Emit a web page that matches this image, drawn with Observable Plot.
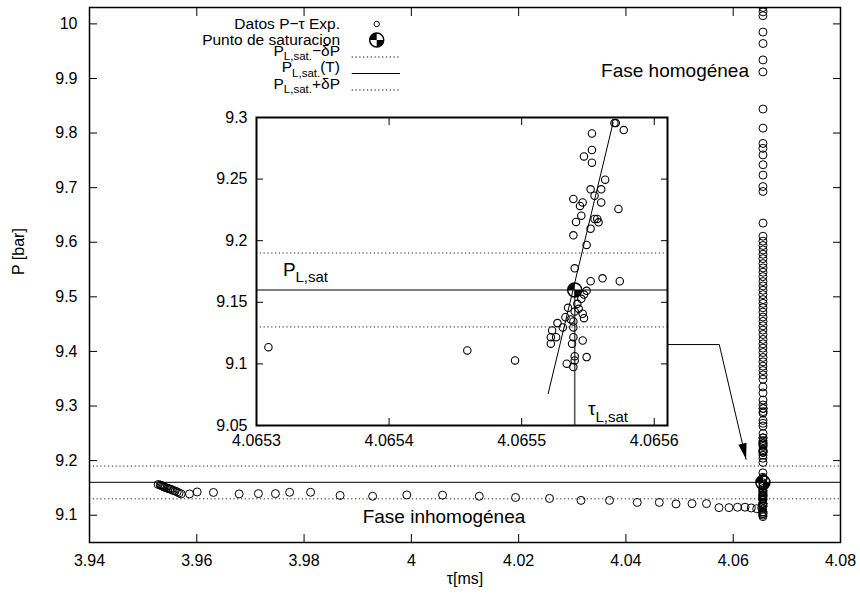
<!DOCTYPE html>
<html><head><meta charset="utf-8">
<script src="https://cdn.jsdelivr.net/npm/d3@7"></script>
<script src="https://cdn.jsdelivr.net/npm/@observablehq/plot@0.6"></script>
<style>
body{margin:0;background:#fff;}
#wrap{position:relative;width:860px;height:595px;}
#wrap svg{position:absolute;overflow:visible;}
</style></head><body><div id="wrap"></div>
<script>
const FONT = '"Liberation Sans", Arial, Helvetica, sans-serif';

// ---- tick labels ----
const xTicksMain = [3.94, 3.96, 3.98, 4, 4.02, 4.04, 4.06, 4.08];
const yTicksMain = [9.1, 9.2, 9.3, 9.4, 9.5, 9.6, 9.7, 9.8, 9.9, 10];
const xTicksInset = [4.0653, 4.0654, 4.0655, 4.0656];
const yTicksInset = [9.05, 9.1, 9.15, 9.2, 9.25, 9.3];

// ---- saturation values ----
const pSat = 9.16;
const deltaP = 0.03;
const tauSat = 4.06554;

// ---- inhomogeneous branch (tau, P) ----
const tauLower = [3.95280,3.95318,3.95336,3.95355,3.95373,3.95392,3.95411,3.95439,3.95467,3.95495,3.95523,3.95560,3.95597,3.95634,3.95671,3.95709,
  3.95864,3.96007,3.96311,3.96790,3.97149,3.97466,3.97731,3.98122,3.98672,3.99278,3.99915,4.00582,4.01266,4.01943,4.02576,4.03163,4.03694,4.04211,4.04622,4.04934,4.05232,4.05502,4.05735,4.05921,4.06080,4.06220,4.06337,4.06438];
const pLower = [9.1563,9.1554,9.1545,9.1536,9.1527,9.1517,9.1508,9.1499,9.1490,9.1481,9.1472,9.1453,9.1444,9.1426,9.1408,9.1390,
  9.1390,9.1426,9.1417,9.1390,9.1395,9.1395,9.1420,9.1420,9.1362,9.1347,9.1371,9.1367,9.1347,9.1325,9.1307,9.1271,9.1271,9.1234,9.1234,9.1207,9.1212,9.1212,9.1139,9.1139,9.1146,9.1146,9.1133,9.1119];

// ---- homogeneous column above the inset range (tau, P) ----
const tauUpper = [4.06555,4.06556,4.06554,4.06555,4.06556,4.06555,4.06554,4.06555,4.06556,4.06555,4.06554,4.06555,4.06556,4.06555,4.06554,4.06555,4.06556,4.06555,4.06554,4.06555,4.06556,4.06555,4.06554,4.06555,4.06556,4.06555,4.06554,4.06555,4.06556,4.06555,4.06554,4.06555,4.06556,4.06555,4.06554,4.06555,4.06556,4.06555,4.06554,4.06555,4.06556,4.06555,4.06554,4.06555,4.06556,4.06555,4.06554,4.06555,4.06556,4.06555,4.06554,4.06555,4.06556,4.06555];
const pUpper = [10.03,10.022,10.015,9.985,9.964,9.934,9.912,9.844,9.809,9.781,9.772,9.760,9.742,9.723,9.702,9.693,9.635,9.611,9.602,9.594,9.586,9.578,9.570,9.561,9.553,9.545,9.537,9.528,9.520,9.512,9.504,9.495,9.488,9.480,9.472,9.463,9.455,9.447,9.439,9.431,9.422,9.414,9.406,9.398,9.389,9.381,9.373,9.365,9.357,9.349,9.335,9.324,9.311,9.302];

// ---- points near saturation (shown in the inset) ----
const tauInset = [4.065570,4.065571,4.065577,4.065553,4.065553,4.065547,4.065553,4.065563,4.065560,4.065552,4.065555,4.065539,4.065546,4.065560,4.065544,4.065573,4.065545,4.065555,4.065557,4.065558,4.065541,4.065552,4.065539,4.065549,4.065540,4.065552,4.065561,4.065574,4.065549,4.065547,4.065545,4.065542,4.065535,4.065543,4.065540,4.065546,4.065533,4.065537,4.065547,4.065539,4.065527,4.065531,4.065539,4.065523,4.065522,4.065526,4.065539,4.065546,4.065522,4.065538,4.065459,4.065495,4.065549,4.065540,4.065540,4.065534,4.065539,4.065309];
const pInset = [9.2955,9.2955,9.2898,9.2870,9.2736,9.2684,9.2633,9.2495,9.2417,9.2417,9.2365,9.2339,9.2311,9.2311,9.2282,9.2258,9.2203,9.2177,9.2177,9.2149,9.2152,9.2098,9.2044,9.1966,9.1776,9.1671,9.1695,9.1671,9.1593,9.1563,9.1528,9.1488,9.1455,9.1447,9.1425,9.1407,9.1379,9.1361,9.1371,9.1344,9.1331,9.1296,9.1296,9.1271,9.1217,9.1217,9.1217,9.1190,9.1164,9.1164,9.1109,9.1028,9.1055,9.1063,9.1028,9.1002,9.0974,9.1136];

// ---- fitted line P(T) in the inset ----
const fitTau = [4.065520, 4.065569];
const fitP = [9.0759, 9.296];

// ---- arrow from the inset to the saturation region (main coords) ----
const arrowTau = [4.0476, 4.0574, 4.0624];
const arrowP = [9.4126, 9.4126, 9.2024];

// ---- text ----
const legendRows = [
  {main: "Datos P\u2212\u03c4 Exp."},
  {main: "Punto de saturacion"},
  {pre: "P", sub: "L,sat.", post: "\u2212\u03b4P"},
  {pre: "P", sub: "L,sat.", post: "(T)"},
  {pre: "P", sub: "L,sat.", post: "+\u03b4P"}
];

const zip = (a, b) => a.map((v, i) => ({x: v, y: b[i]}));
const lowerPts = zip(tauLower, pLower);
const upperPts = zip(tauUpper, pUpper);
const insetPts = zip(tauInset, pInset);
const allPts = lowerPts.concat(upperPts, insetPts);
const satPt = [{x: tauSat, y: pSat}];
const fitPts = zip(fitTau, fitP);
const arrowPts = zip(arrowTau, arrowP);

// symbols
const quadSymbol = {draw(ctx, size) {
  const r = Math.sqrt(size / Math.PI);
  ctx.moveTo(0, 0); ctx.arc(0, 0, r, Math.PI, 1.5 * Math.PI); ctx.closePath();
  ctx.moveTo(0, 0); ctx.arc(0, 0, r, 0, 0.5 * Math.PI); ctx.closePath();
}};
const arrowHead = {draw(ctx) {
  const ux = 0.2262, uy = 0.9741, L = 16, W = 4.2;
  const bx = -ux * L, by = -uy * L;
  ctx.moveTo(0, 0);
  ctx.lineTo(bx - uy * W, by + ux * W);
  ctx.lineTo(bx + uy * W, by - ux * W);
  ctx.closePath();
}};

const fmt2 = d => String(+d.toFixed(2));
const dotted = "1.2,2.6";

// ---------------- main plot ----------------
const main = Plot.plot({
  width: 860, height: 595,
  marginLeft: 89, marginRight: 20, marginTop: 7, marginBottom: 53,
  x: {domain: [3.94, 4.08]},
  y: {domain: [9.05, 10.03]},
  style: {fontFamily: FONT, fontSize: "16px", background: "white", color: "black"},
  marks: [
    Plot.ruleY([pSat + deltaP, pSat - deltaP], {stroke: "#222", strokeWidth: 1, strokeDasharray: dotted}),
    Plot.ruleY([pSat], {stroke: "#333", strokeWidth: 1.2}),
    Plot.dot(allPts, {x: "x", y: "y", r: 4, stroke: "black", strokeWidth: 1, fill: "none", clip: true}),
    Plot.dot(satPt, {x: "x", y: "y", r: 7, symbol: quadSymbol, fill: "black", stroke: "none"}),
    Plot.dot(satPt, {x: "x", y: "y", r: 7, stroke: "black", strokeWidth: 1.5, fill: "none"}),
    Plot.line(arrowPts, {x: "x", y: "y", stroke: "black", strokeWidth: 1}),
    Plot.dot(arrowPts.slice(-1), {x: "x", y: "y", r: 5, symbol: arrowHead, fill: "black", stroke: "none"}),
    Plot.text(["Fase homog\u00e9nea"], {x: 4.06294, y: 9.914, textAnchor: "end", fontSize: 19}),
    Plot.text(["Fase inhomog\u00e9nea"], {x: 4.00608, y: 9.097, fontSize: 19}),
    Plot.axisX({ticks: xTicksMain, tickSize: 0, tickPadding: 12, tickFormat: fmt2, label: null, fontSize: 16}),
    Plot.axisY({ticks: yTicksMain, tickSize: 0, tickPadding: 12, tickFormat: fmt2, label: null, fontSize: 16}),
    Plot.axisX({ticks: xTicksMain, anchor: "bottom", tickSize: 8, dy: -8, fill: "none", label: null}),
    Plot.axisX({ticks: xTicksMain, anchor: "top", tickSize: 8, dy: 8, fill: "none", label: null}),
    Plot.axisY({ticks: yTicksMain, anchor: "left", tickSize: 8, dx: 8, fill: "none", label: null}),
    Plot.axisY({ticks: yTicksMain, anchor: "right", tickSize: 8, dx: -8, fill: "none", label: null}),
    Plot.text(["\u03c4[ms]"], {frameAnchor: "bottom", dy: 41, fontSize: 16}),
    Plot.text(["P [bar]"], {frameAnchor: "left", dx: -71, rotate: -90, fontSize: 16}),
    Plot.frame({stroke: "black", strokeWidth: 1.5})
  ]
});
main.style.left = "0px"; main.style.top = "0px";

// legend (drawn into main svg)
const leg = d3.select(main).append("g").attr("font-family", FONT).attr("font-size", 15.5).attr("fill", "black");
const rowY = [24, 40, 57, 73.5, 90];
const textRight = 340, symX = 376.7, lineX0 = 351.7, lineX1 = 400;
legendRows.forEach((row, i) => {
  const t = leg.append("text").attr("x", textRight).attr("y", rowY[i]).attr("dy", "0.35em").attr("text-anchor", "end");
  if (row.main) t.text(row.main);
  else {
    t.append("tspan").attr("dy", -1.5).text(row.pre);
    t.append("tspan").attr("font-size", 11.5).attr("dy", 4.5).text(row.sub);
    t.append("tspan").attr("dy", -4.5).text(row.post);
  }
});
leg.append("circle").attr("cx", symX).attr("cy", rowY[0]).attr("r", 2.7).attr("fill", "none").attr("stroke", "black");
leg.append("path").attr("transform", `translate(${symX},${rowY[1]})`).attr("d", d3.symbol(quadSymbol, 49 * Math.PI)()).attr("fill", "black");
leg.append("circle").attr("cx", symX).attr("cy", rowY[1]).attr("r", 7).attr("fill", "none").attr("stroke", "black").attr("stroke-width", 1.5);
[2, 3, 4].forEach(i => {
  leg.append("line").attr("x1", lineX0).attr("x2", lineX1).attr("y1", rowY[i]).attr("y2", rowY[i])
    .attr("stroke", "black").attr("stroke-width", 1).attr("stroke-dasharray", i === 3 ? null : dotted);
});

// ---------------- inset plot ----------------
const inset = Plot.plot({
  width: 483, height: 360,
  marginLeft: 60, marginRight: 12, marginTop: 12, marginBottom: 40,
  x: {domain: [4.0653, 4.06561]},
  y: {domain: [9.05, 9.3]},
  style: {fontFamily: FONT, fontSize: "16px", background: "transparent", color: "black"},
  marks: [
    Plot.frame({fill: "white", stroke: "none"}),
    Plot.ruleY([pSat + deltaP, pSat - deltaP], {stroke: "#222", strokeWidth: 1, strokeDasharray: dotted}),
    Plot.ruleY([pSat], {stroke: "#555", strokeWidth: 1.6}),
    Plot.ruleX([tauSat], {y1: 9.05, y2: pSat, stroke: "#555", strokeWidth: 1.6}),
    Plot.line(fitPts, {x: "x", y: "y", stroke: "black", strokeWidth: 1}),
    Plot.dot(insetPts, {x: "x", y: "y", r: 3.7, stroke: "black", strokeWidth: 1.1, fill: "none"}),
    Plot.dot(satPt, {x: "x", y: "y", r: 7, symbol: quadSymbol, fill: "black", stroke: "none"}),
    Plot.dot(satPt, {x: "x", y: "y", r: 7, stroke: "black", strokeWidth: 1.5, fill: "none"}),
    Plot.text(["P"], {x: 4.06532, y: 9.1717, textAnchor: "start", lineAnchor: "bottom", fontSize: 19}),
    Plot.text(["L,sat"], {x: 4.06532, y: 9.1717, textAnchor: "start", lineAnchor: "bottom", fontSize: 15, dx: 12.5, dy: 6}),
    Plot.text(["\u03c4"], {x: 4.06555, y: 9.0583, textAnchor: "start", lineAnchor: "bottom", fontSize: 19}),
    Plot.text(["L,sat"], {x: 4.06555, y: 9.0583, textAnchor: "start", lineAnchor: "bottom", fontSize: 15, dx: 7.5, dy: 6.5}),
    Plot.axisX({ticks: xTicksInset, tickSize: 0, tickPadding: 9, tickFormat: d => d.toFixed(4), label: null, fontSize: 16}),
    Plot.axisY({ticks: yTicksInset, tickSize: 0, tickPadding: 9, tickFormat: fmt2, label: null, fontSize: 16}),
    Plot.axisX({ticks: xTicksInset, anchor: "bottom", tickSize: 7, dy: -7, fill: "none", label: null}),
    Plot.axisX({ticks: xTicksInset, anchor: "top", tickSize: 7, dy: 7, fill: "none", label: null}),
    Plot.axisY({ticks: yTicksInset, anchor: "left", tickSize: 7, dx: 7, fill: "none", label: null}),
    Plot.axisY({ticks: yTicksInset, anchor: "right", tickSize: 7, dx: -7, fill: "none", label: null}),
    Plot.frame({stroke: "black", strokeWidth: 2})
  ]
});
inset.style.left = "196px"; inset.style.top = "105px";

const wrap = document.getElementById("wrap");
wrap.appendChild(main);
wrap.appendChild(inset);
</script>
</body></html>
